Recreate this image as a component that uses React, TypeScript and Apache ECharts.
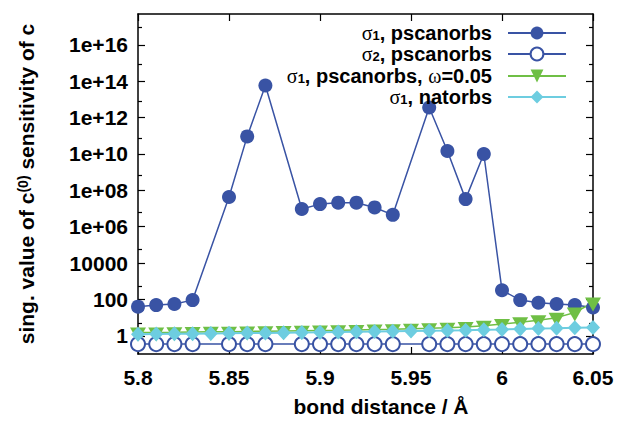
import React, { useEffect, useRef } from 'react';
import * as echarts from 'echarts';

// bond distances (Å) where the pscanorbs results exist
const xPscan = [5.80, 5.81, 5.82, 5.83, 5.85, 5.86, 5.87, 5.89, 5.90, 5.91, 5.92, 5.93, 5.94, 5.96, 5.97, 5.98, 5.99, 6.00, 6.01, 6.02, 6.03, 6.04, 6.05];
const sigma1Pscan = [40, 49, 56, 92, 4.3e7, 9.3e10, 5.8e13, 9.4e6, 1.75e7, 2.1e7, 2.1e7, 1.15e7, 4.5e6, 3.6e12, 1.45e10, 3.3e7, 1.0e10, 320, 92, 66, 56, 49, 36];
const sigma2Pscan = [0.35, 0.35, 0.35, 0.35, 0.35, 0.35, 0.35, 0.35, 0.35, 0.35, 0.35, 0.35, 0.35, 0.35, 0.35, 0.35, 0.35, 0.35, 0.35, 0.35, 0.35, 0.35, 0.35];
// full grid of bond distances
const xAll = [5.80, 5.81, 5.82, 5.83, 5.84, 5.85, 5.86, 5.87, 5.88, 5.89, 5.90, 5.91, 5.92, 5.93, 5.94, 5.95, 5.96, 5.97, 5.98, 5.99, 6.00, 6.01, 6.02, 6.03, 6.04, 6.05];
const sigma1Omega = [1.5, 1.52, 1.55, 1.6, 1.65, 1.7, 1.75, 1.8, 1.85, 1.9, 1.95, 2.0, 2.1, 2.2, 2.3, 2.45, 2.6, 2.8, 3.1, 3.6, 4.4, 5.6, 7.2, 10, 19, 68];
const sigma1Nat = [1.22, 1.25, 1.28, 1.31, 1.34, 1.37, 1.41, 1.45, 1.49, 1.53, 1.57, 1.62, 1.67, 1.72, 1.78, 1.84, 1.9, 1.97, 2.05, 2.15, 2.25, 2.4, 2.5, 2.6, 2.75, 2.9];

const seriesNames = ['σ1, pscanorbs', 'σ2, pscanorbs', 'σ1, pscanorbs, ω=0.05', 'σ1, natorbs'];
const legendLabels = [
  '{s|σ}{sub|1}{t|, pscanorbs}',
  '{s|σ}{sub|2}{t|, pscanorbs}',
  '{s|σ}{sub|1}{t|, pscanorbs, }{s|ω}{t|=0.05}',
  '{s|σ}{sub|1}{t|, natorbs}',
];

const xMin = 5.8;
const xMax = 6.05;
const xInterval = 0.05;
const yMin = 0.1;
const yMax = 5e17;
const yMajorTicks = [1, 100, 1e4, 1e6, 1e8, 1e10, 1e12, 1e14, 1e16];
const yMajorLabels = ['1', '100', '10000', '1e+06', '1e+08', '1e+10', '1e+12', '1e+14', '1e+16'];
const yMinorTicks = [10, 1e3, 1e5, 1e7, 1e9, 1e11, 1e13, 1e15, 1e17];

const xTitle = 'bond distance / Å';
const yTitle = '{a|sing. value of c}{sup|(0)}{a| sensitivity of c}';

const BLUE = '#3953a4';
const GREEN = '#6fbf45';
const CYAN = '#6dcde0';
const FONT = 'Liberation Sans';

const pairs = (xs: number[], ys: number[]) => xs.map((x, i) => [x, ys[i]]);

const yLabelFor = (v: number) => {
  const e = Math.round(Math.log10(v));
  const idx = yMajorTicks.findIndex((t) => Math.round(Math.log10(t)) === e);
  return idx >= 0 ? yMajorLabels[idx] : '';
};

export default function App() {
  const ref = useRef<HTMLDivElement>(null);
  useEffect(() => {
    if (!ref.current) return;
    const chart = echarts.init(ref.current, undefined, { renderer: 'svg' });
    const gridRect = { left: 138, right: 29, top: 14, bottom: 62 };
    const lineAxis = { show: true, lineStyle: { color: '#000', width: 1.5 } };
    const yBase = { type: 'log', logBase: 10, min: yMin, max: yMax, splitLine: { show: false } };
    const legendRowTop = [23, 44, 66, 87];
    const option: any = {
      animation: false,
      backgroundColor: '#fff',
      grid: [gridRect, gridRect],
      xAxis: [
        {
          type: 'value', gridIndex: 0, position: 'bottom', min: xMin, max: xMax, interval: xInterval,
          axisLine: lineAxis,
          axisTick: { show: true, inside: true, length: 7, lineStyle: { color: '#000', width: 1.2 } },
          axisLabel: { color: '#000', fontFamily: FONT, fontWeight: 'bold', fontSize: 21, margin: 13 },
          splitLine: { show: false },
          name: xTitle, nameLocation: 'middle', nameGap: 42,
          nameTextStyle: { color: '#000', fontFamily: FONT, fontWeight: 'bold', fontSize: 21, padding: [0, 0, 0, 31] },
        },
        {
          type: 'value', gridIndex: 1, position: 'top', min: xMin, max: xMax, interval: xInterval,
          axisLine: lineAxis,
          axisTick: { show: true, inside: true, length: 7, lineStyle: { color: '#000', width: 1.2 } },
          axisLabel: { show: false },
          splitLine: { show: false },
        },
      ],
      yAxis: [
        {
          ...yBase, gridIndex: 0, position: 'left',
          axisLine: lineAxis,
          axisTick: { show: true, inside: true, length: 7, customValues: yMajorTicks, lineStyle: { color: '#000', width: 1.2 } },
          axisLabel: { color: '#000', fontFamily: FONT, fontWeight: 'bold', fontSize: 21, margin: 10, customValues: yMajorTicks, formatter: (v: number) => yLabelFor(v) },
          name: yTitle, nameLocation: 'middle', nameGap: 100,
          nameTextStyle: {
            color: '#000',
            rich: {
              a: { fontFamily: FONT, fontWeight: 'bold', fontSize: 21, color: '#000', lineHeight: 24 },
              sup: { fontFamily: FONT, fontWeight: 'bold', fontSize: 14, color: '#000', lineHeight: 14, padding: [0, 0, 7, 0] },
            },
          },
        },
        {
          ...yBase, gridIndex: 0, position: 'right',
          axisLine: lineAxis,
          axisTick: { show: true, inside: true, length: 7, customValues: yMajorTicks, lineStyle: { color: '#000', width: 1.2 } },
          axisLabel: { show: false },
        },
        {
          ...yBase, gridIndex: 1, position: 'left',
          axisLine: { show: false },
          axisTick: { show: true, inside: true, length: 4, customValues: yMinorTicks, lineStyle: { color: '#000', width: 1.2 } },
          axisLabel: { show: false },
        },
        {
          ...yBase, gridIndex: 1, position: 'right',
          axisLine: { show: false },
          axisTick: { show: true, inside: true, length: 4, customValues: yMinorTicks, lineStyle: { color: '#000', width: 1.2 } },
          axisLabel: { show: false },
        },
      ],
      legend: seriesNames.map((n, i) => ({
        data: [n],
        orient: 'vertical',
        align: 'right',
        right: 55,
        top: legendRowTop[i],
        padding: 0,
        itemWidth: 58,
        itemHeight: 16,
        formatter: () => legendLabels[i],
        textStyle: {
          color: '#000',
          padding: [0, 11, 0, 0],
          rich: {
            s: { fontFamily: 'Liberation Serif', fontSize: 20, color: '#000', lineHeight: 16 },
            sub: { fontFamily: FONT, fontWeight: 'bold', fontSize: 13, color: '#000', lineHeight: 12, padding: [4, 0, 0, 0] },
            t: { fontFamily: FONT, fontWeight: 'bold', fontSize: 20, color: '#000', lineHeight: 16 },
          },
        },
      })),
      series: [
        {
          name: seriesNames[0], type: 'line', xAxisIndex: 0, yAxisIndex: 0,
          data: pairs(xPscan, sigma1Pscan),
          symbol: 'circle', symbolSize: 14,
          itemStyle: { color: BLUE },
          lineStyle: { color: BLUE, width: 1.5 },
        },
        {
          name: seriesNames[1], type: 'line', xAxisIndex: 0, yAxisIndex: 0,
          data: pairs(xPscan, sigma2Pscan),
          symbol: 'emptyCircle', symbolSize: 14,
          itemStyle: { color: BLUE, borderWidth: 1.5 },
          lineStyle: { color: BLUE, width: 1.5 },
        },
        {
          name: seriesNames[2], type: 'line', xAxisIndex: 0, yAxisIndex: 0,
          data: pairs(xAll, sigma1Omega),
          symbol: 'path://M0,0L20,0L10,17.3Z', symbolSize: [16, 14], symbolOffset: [0, 2],
          itemStyle: { color: GREEN },
          lineStyle: { color: GREEN, width: 1.5 },
        },
        {
          name: seriesNames[3], type: 'line', xAxisIndex: 0, yAxisIndex: 0,
          data: pairs(xAll, sigma1Nat),
          symbol: 'diamond', symbolSize: [14, 15],
          itemStyle: { color: CYAN },
          lineStyle: { color: CYAN, width: 2 },
        },
      ],
    };
    chart.setOption(option);
    return () => chart.dispose();
  }, []);
  return <div ref={ref} style={{ width: 622, height: 422, margin: -8 }} />;
}
